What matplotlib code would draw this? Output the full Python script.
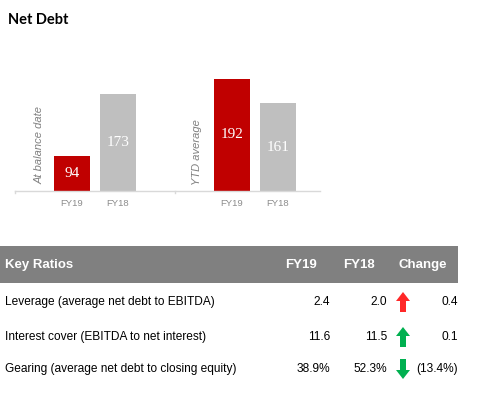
import matplotlib
matplotlib.use("Agg")
import matplotlib.pyplot as plt
from matplotlib.patches import Rectangle, FancyArrow

# bar chart data
groups = ["At balance date", "YTD average"]
years = ["FY19", "FY18"]
net_debt = [[94, 173], [192, 161]]
bar_colors = ["#c00000", "#bfbfbf"]

# table data
header = ["Key Ratios", "FY19", "FY18", "Change"]
ratio_names = ["Leverage (average net debt to EBITDA)",
               "Interest cover (EBITDA to net interest)",
               "Gearing (average net debt to closing equity)"]
fy19_vals = ["2.4", "11.6", "38.9%"]
fy18_vals = ["2.0", "11.5", "52.3%"]
change_vals = ["0.4", "0.1", "(13.4%)"]
arrow_dir = [1, 1, -1]
arrow_cols = ["#ff2828", "#00b050", "#00b050"]

W, H = 482, 395
fig = plt.figure(figsize=(W / 100, H / 100), dpi=100)

# bar axes
ax = fig.add_axes([15 / W, (H - 191) / H, 305 / W, 158 / H])
ax.patch.set_visible(False)
ax.set_ylim(50, 250)
ax.set_xlim(0, 305 / 160)
off, bw = 0.144, 0.225
xt, xl = [], []
for g, gname in enumerate(groups):
    for i, yr in enumerate(years):
        x = g + 0.5 + (i * 2 - 1) * off
        v = net_debt[g][i]
        ax.bar(x, v - 50, bottom=50, width=bw, color=bar_colors[i])
        ax.text(x, 50 + (v - 50) / 2, str(v), ha="center", va="center",
                color="white", fontsize=11, family="Liberation Serif")
        xt.append(x)
        xl.append(yr)
ax.set_xticks(xt)
ax.set_xticklabels(xl, fontsize=6.8, color="#8c8c8c", family="Liberation Sans")
ax.tick_params(axis="x", length=0, pad=6)
ax.set_yticks([])
for s in ["top", "right", "left"]:
    ax.spines[s].set_visible(False)
ax.spines["bottom"].set_color("#d9d9d9")
ax.spines["bottom"].set_linewidth(1)
for g in range(len(groups)):
    ax.plot([g, g], [50, 48], color="#d9d9d9", lw=1, clip_on=False)

# overlay in pixel coords for title / labels / table
ov = fig.add_axes([0, 0, 1, 1])
ov.patch.set_visible(False)
ov.set_xlim(0, W)
ov.set_ylim(H, 0)
ov.axis("off")

ov.text(8, 20, "Net Debt", fontsize=10.5, fontweight="bold", family="Lato",
        va="center", ha="left", color="black")

# rotated group labels
ov.text(40, 145, groups[0], rotation=90, ha="center", va="center",
        fontsize=8, style="italic", color="#808080", family="Liberation Sans")
ov.text(197, 152, groups[1], rotation=90, ha="center", va="center",
        fontsize=8, style="italic", color="#808080", family="Liberation Sans")

# table header
ov.add_patch(Rectangle((0, 246), 458, 37, color="#808080", lw=0))
hx = [5, 301, 359, 423]
ha = ["left", "center", "center", "center"]
for t, x, a in zip(header, hx, ha):
    ov.text(x, 265, t, color="white", fontweight="bold", fontsize=9.5,
            family="Liberation Sans", ha=a, va="center")

row_y = [302, 337, 369]
for i in range(len(ratio_names)):
    y = row_y[i]
    kw = dict(fontsize=8.6, family="Liberation Sans", va="center", color="black")
    ov.text(5, y, ratio_names[i], ha="left", **kw)
    ov.text(330, y, fy19_vals[i], ha="right", **kw)
    ov.text(387, y, fy18_vals[i], ha="right", **kw)
    ov.text(458, y, change_vals[i], ha="right", **kw)
    d = arrow_dir[i]
    ov.add_patch(FancyArrow(403, y + 10 * d, 0, -20 * d, width=6,
                            head_width=14, head_length=9,
                            length_includes_head=True,
                            color=arrow_cols[i], lw=0))

fig.savefig("out.png", dpi=100)
